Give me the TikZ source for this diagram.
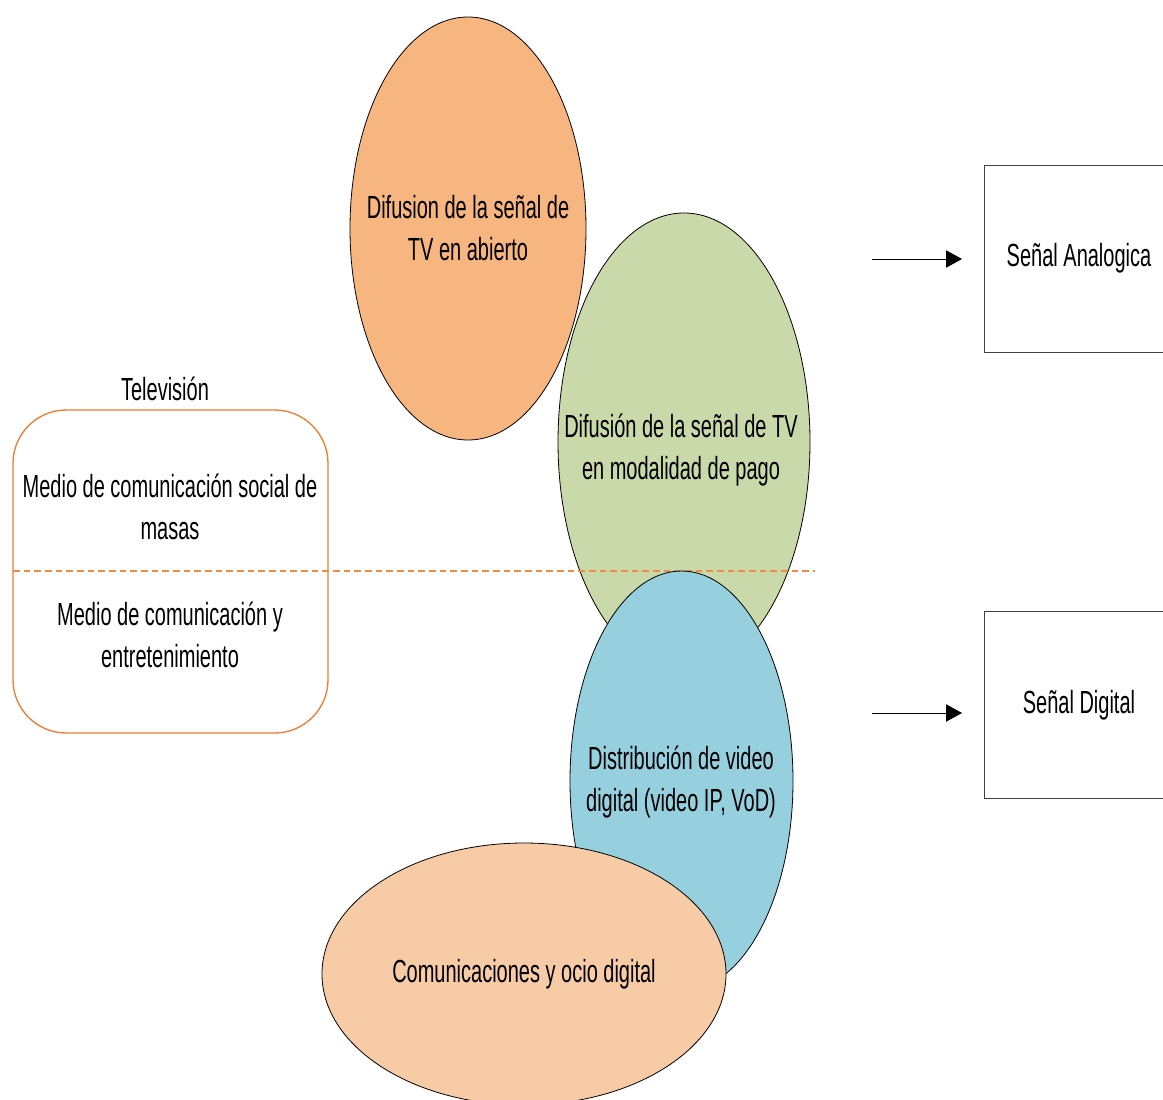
\documentclass[tikz,border=0pt]{standalone}
\usepackage{fontspec}
\setmainfont{Liberation Sans}[FakeStretch=0.625]
\usetikzlibrary{shapes.geometric,arrows.meta}
\definecolor{openorange}{RGB}{247,181,128}
\definecolor{paygreen}{RGB}{202,217,169}
\definecolor{videoblue}{RGB}{150,208,222}
\definecolor{leisurepeach}{RGB}{248,203,167}
\definecolor{tvborder}{RGB}{237,125,49}
\definecolor{splitline}{RGB}{238,140,70}
\begin{document}
\begin{tikzpicture}[x=0.75pt,y=-0.75pt,
  txt/.style={font=\fontsize{24}{32}\selectfont,align=center,text=black},
  blob/.style={ellipse,draw=black,line width=0.6pt,inner sep=0pt},
  signalbox/.style={rectangle,draw=black!75,line width=0.6pt,inner sep=0pt,
    minimum width=190*0.75pt,minimum height=187*0.75pt,txt},
  feed/.style={line width=0.6pt,-{Triangle[length=12pt,width=13pt]}}]
\useasboundingbox (0,0) rectangle (1163,1099);
\clip (0,0) rectangle (1163,1099);

% television box with its two roles
\node[txt] (tvtitle) at (165,389) {Televisión};
\node[draw=tvborder,line width=1pt,rounded corners=40pt,
  minimum width=315*0.75pt,minimum height=323*0.75pt] (tvbox) at (170.5,571.5) {};
\node[txt] (social) at (170,507) {Medio de comunicación social de\\masas};
\node[txt] (leisure) at (170,635) {Medio de comunicación y\\entretenimiento};

% service ellipses, stacked from top to bottom
\node[blob,fill=openorange,minimum width=236*0.75pt,minimum height=423*0.75pt]
  (open) at (468,228.5) {};
\node[txt] (opentext) at (468,228) {Difusion de la señal de\\TV en abierto};
\node[blob,fill=paygreen,minimum width=252*0.75pt,minimum height=458*0.75pt]
  (pay) at (684,442) {};
\node[txt] (paytext) at (681,450) {Difusión de la señal de TV\\en modalidad de pago};

% analog / digital split
\coordinate (splitL) at (13,571);
\coordinate (splitR) at (815,571);
\draw[splitline,line width=0.8pt,dash pattern=on 5pt off 3pt] (splitL) -- (splitR);

\node[blob,fill=videoblue,minimum width=223*0.75pt,minimum height=420*0.75pt]
  (video) at (681.5,781) {};
\node[txt] (videotext) at (681,782) {Distribución de video\\digital (video IP, VoD)};
\node[blob,fill=leisurepeach,minimum width=404*0.75pt,minimum height=262*0.75pt]
  (digital) at (524,974) {};
\node[txt] (digitaltext) at (524,974) {Comunicaciones y ocio digital};

% signal type boxes
\node[signalbox] (analog) at (1079,258.5) {Señal Analogica};
\node[signalbox] (digi) at (1079,705) {Señal Digital};
\coordinate (a1) at (872,259);
\coordinate (a2) at (962,259);
\coordinate (d1) at (872,713);
\coordinate (d2) at (962,713);
\draw[feed] (a1) -- (a2);
\draw[feed] (d1) -- (d2);
\end{tikzpicture}
\end{document}
